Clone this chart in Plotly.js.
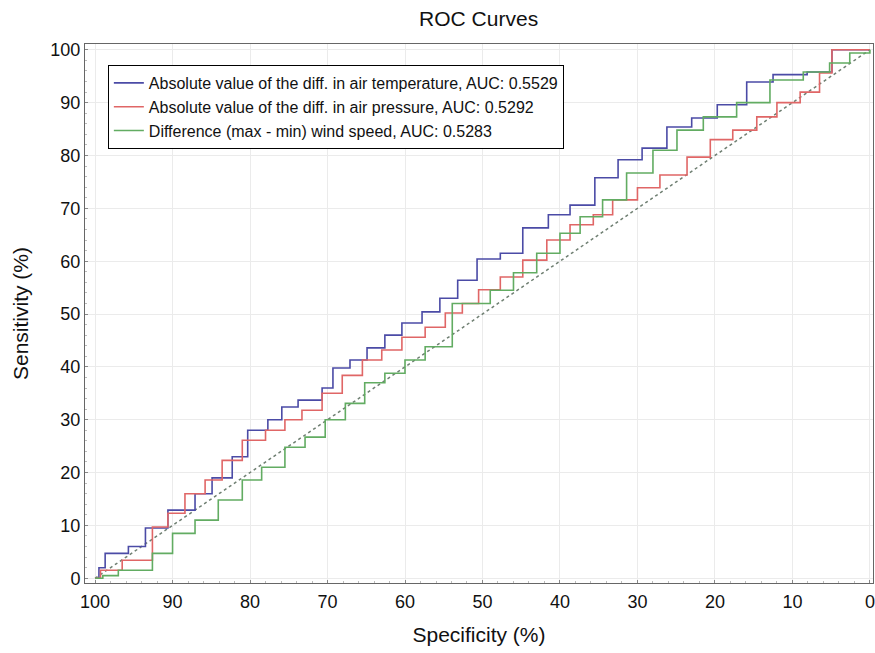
<!DOCTYPE html>
<html>
<head>
<meta charset="utf-8">
<script src="https://cdn.plot.ly/plotly-3.0.1.min.js"></script>
<style>html,body{margin:0;padding:0;background:#fff;}#chart{width:875px;height:653px;}</style>
</head>
<body>
<div id="chart"></div>
<script>
// Specificity (%) / Sensitivity (%) step points for each ROC curve
const tempSpec = [100, 99.5, 98.7, 95.7, 93.5, 90.6, 87.1, 84.9, 82.3, 80.3, 77.7, 75.9, 73.8, 70.7, 69.3, 67.1, 64.9, 62.6, 60.4, 57.8, 55.5, 53.2, 50.7, 47.7, 44.8, 41.5, 38.7, 35.5, 32.5, 29.4, 26.2, 23.0, 19.7, 15.9, 12.5, 8.1, 4.9, 0];
const tempSens = [0, 2.0, 4.7, 6.0, 9.5, 12.9, 16.0, 19.0, 23.0, 28.0, 30.0, 32.4, 33.7, 36.0, 39.8, 41.3, 43.6, 46.0, 48.3, 50.4, 53.0, 56.4, 60.4, 61.5, 66.3, 68.8, 70.6, 75.8, 79.2, 81.4, 85.4, 87.1, 89.6, 93.9, 95.3, 95.8, 100, 100];
const presSpec = [100, 99.3, 96.5, 92.6, 90.6, 88.4, 85.8, 83.6, 81.0, 78.0, 75.5, 73.3, 70.7, 68.1, 65.5, 63.0, 60.4, 57.4, 54.8, 52.6, 50.5, 47.7, 44.8, 41.7, 38.7, 35.7, 33.2, 30.0, 27.1, 23.6, 20.6, 17.7, 14.6, 12.0, 9.0, 6.5, 4.9, 0];
const presSens = [0, 1.5, 3.4, 9.7, 12.3, 16.0, 18.6, 22.3, 26.1, 28.0, 30.0, 31.8, 35.0, 38.4, 41.3, 43.2, 45.6, 47.5, 50.2, 52.0, 54.6, 57.0, 60.2, 64.0, 66.9, 68.8, 71.6, 73.9, 76.3, 79.7, 83.0, 84.8, 87.3, 90.0, 92.0, 95.6, 100, 100];
const windSpec = [100, 99.0, 97.0, 92.6, 90.0, 87.1, 84.1, 81.0, 78.5, 75.5, 72.9, 70.3, 67.7, 65.2, 62.6, 60.0, 57.4, 53.9, 53.9, 49.0, 46.0, 43.0, 40.0, 37.4, 34.5, 31.4, 28.0, 24.9, 21.5, 17.2, 12.9, 8.6, 5.2, 2.6, 0];
const windSens = [0, 0.5, 1.5, 4.7, 8.5, 11.0, 14.8, 18.6, 21.0, 24.8, 26.7, 30.0, 33.1, 37.0, 38.8, 41.3, 43.8, 47.5, 52.0, 54.5, 57.8, 61.5, 65.3, 68.4, 71.6, 76.7, 81.0, 84.8, 87.3, 90.0, 94.3, 95.8, 97.5, 99.4, 100];
const refSpec = [100, 0];
const refSens = [0, 100];
const seriesNames = [
  'Absolute value of the diff. in air temperature, AUC: 0.5529',
  'Absolute value of the diff. in air pressure, AUC: 0.5292',
  'Difference (max - min) wind speed, AUC: 0.5283'
];
const tickVals = [0, 10, 20, 30, 40, 50, 60, 70, 80, 90, 100];

const font = 'Liberation Sans, Arial, Helvetica, sans-serif';
const traces = [
  {x: refSpec, y: refSens, mode: 'lines', showlegend: false, hoverinfo: 'skip',
   line: {color: '#6f7f72', width: 1.5, dash: 'dot'}},
  {x: tempSpec, y: tempSens, mode: 'lines', name: seriesNames[0],
   line: {color: '#4b4ba6', width: 1.6, shape: 'hv'}},
  {x: presSpec, y: presSens, mode: 'lines', name: seriesNames[1],
   line: {color: '#e06666', width: 1.6, shape: 'hv'}},
  {x: windSpec, y: windSens, mode: 'lines', name: seriesNames[2],
   line: {color: '#62ac62', width: 1.6, shape: 'hv'}}
];

const axisCommon = {
  tickvals: tickVals, showgrid: true, gridcolor: '#ebebeb', gridwidth: 1,
  zeroline: false, showline: true, linecolor: '#666', linewidth: 1, mirror: true,
  ticks: 'inside', ticklen: 3, tickcolor: '#888',
  minor: {dtick: 2, ticks: 'inside', ticklen: 2, tickcolor: '#bbb', showgrid: false},
  tickfont: {family: font, size: 18, color: '#111'}
};

const layout = {
  width: 875, height: 653,
  margin: {l: 85, r: 2, t: 44, b: 70},
  paper_bgcolor: '#fff', plot_bgcolor: '#fff',
  title: {text: 'ROC Curves', x: 0.547, xanchor: 'center', y: 0.972, yanchor: 'middle',
          font: {family: font, size: 21, color: '#111'}},
  xaxis: Object.assign({}, axisCommon, {
    range: [101.3, -0.4], ticklabelstandoff: 2,
    title: {text: 'Specificity (%)', standoff: 16, font: {family: font, size: 21, color: '#111'}}
  }),
  yaxis: Object.assign({}, axisCommon, {
    range: [-0.9, 101.1],
    title: {text: 'Sensitivity (%)', standoff: 16, font: {family: font, size: 21, color: '#111'}}
  }),
  showlegend: true,
  legend: {x: 0.029, y: 0.961, xanchor: 'left', yanchor: 'top',
           bgcolor: '#fff', bordercolor: '#000', borderwidth: 1,
           font: {family: font, size: 16, color: '#111'}, tracegroupgap: 0,
           itemwidth: 30}
};

Plotly.newPlot('chart', traces, layout, {displayModeBar: false, staticPlot: true});
</script>
</body>
</html>
